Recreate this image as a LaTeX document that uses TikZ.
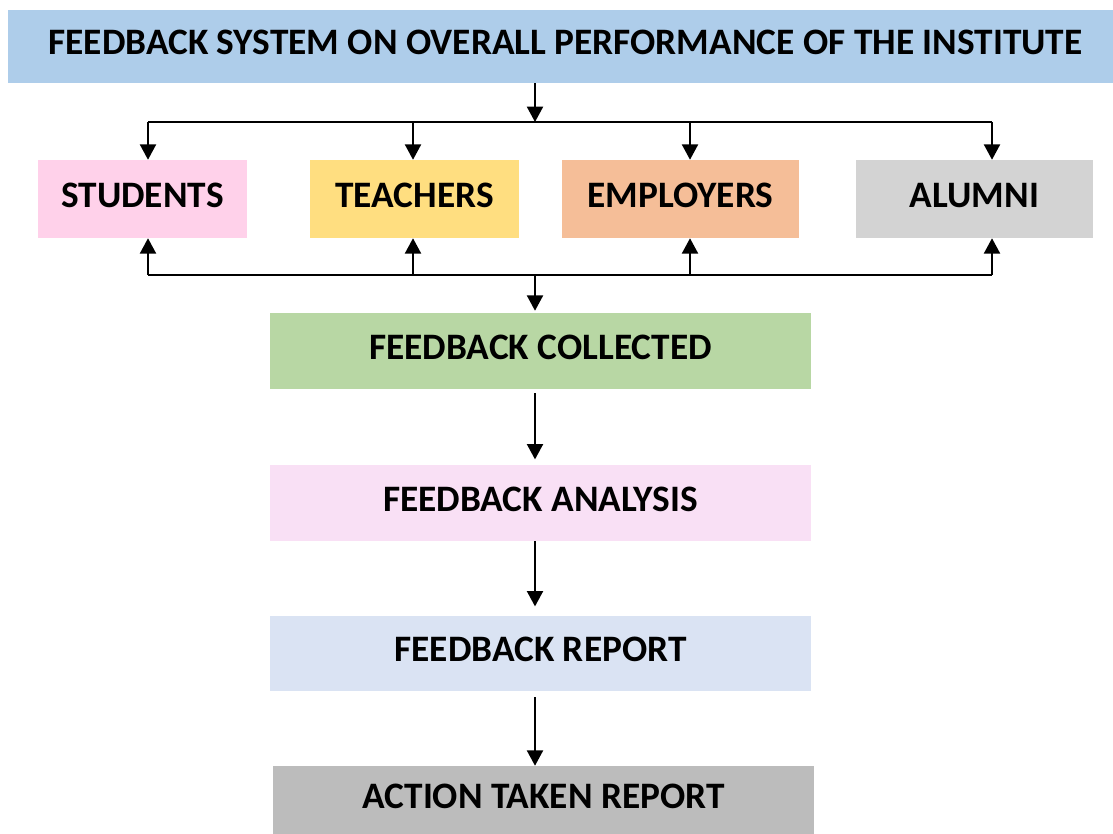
\documentclass[tikz,border=0pt]{standalone}
\usepackage{fontspec}
\setmainfont{Carlito}
\usetikzlibrary{arrows.meta,calc}
\definecolor{titleblue}{RGB}{174,205,234}
\definecolor{studpink}{RGB}{255,209,234}
\definecolor{teachyellow}{RGB}{255,222,128}
\definecolor{emplorange}{RGB}{245,190,152}
\definecolor{alumgrey}{RGB}{211,211,211}
\definecolor{collgreen}{RGB}{184,215,164}
\definecolor{analpink}{RGB}{249,224,245}
\definecolor{reptblue}{RGB}{218,227,243}
\definecolor{actgrey}{RGB}{188,188,188}
\tikzset{
	fbbox/.style={inner sep=0pt, text depth=6pt, font=\fontsize{28}{33}\selectfont\bfseries},
	fbarrow/.style={line width=1.5pt, -{Triangle[width=12pt,length=11.5pt]}},
	fbline/.style={line width=1.5pt}
}

\begin{document}
\begin{tikzpicture}[x=0.75pt, y=-0.75pt]
			%%%%% START %%%%%
			
			\useasboundingbox[fill=white] (0, 0) rectangle (1113, 834);
			
			\node[fbbox, fill=titleblue, minimum width=828.75pt, minimum height=54.75pt] (title) at (560.5, 46.5) {\hspace*{7.5pt}FEEDBACK SYSTEM ON OVERALL PERFORMANCE OF THE INSTITUTE};
			
			\node[fbbox, fill=studpink, minimum width=156.75pt, minimum height=58.5pt] (stud) at (142.5, 199) {STUDENTS};
			\node[fbbox, fill=teachyellow, minimum width=156.75pt, minimum height=58.5pt] (teach) at (414.5, 199) {TEACHERS};
			\node[fbbox, fill=emplorange, minimum width=177.75pt, minimum height=58.5pt] (empl) at (680.5, 199) {EMPLOYERS};
			\node[fbbox, fill=alumgrey, minimum width=177.75pt, minimum height=58.5pt] (alum) at (974.5, 199) {ALUMNI};
			
			\node[fbbox, fill=collgreen, minimum width=405.75pt, minimum height=57pt] (coll) at (540.5, 351) {FEEDBACK COLLECTED};
			\node[fbbox, fill=analpink, minimum width=405.75pt, minimum height=57pt] (anal) at (540.5, 503) {FEEDBACK ANALYSIS};
			\node[fbbox, fill=reptblue, minimum width=405.75pt, minimum height=56.25pt] (rept) at (540.5, 653.5) {FEEDBACK REPORT};
			\node[fbbox, fill=actgrey, minimum width=405.75pt, minimum height=51pt] (act) at (543.5, 800) {ACTION TAKEN REPORT};
			
			% bus points
			\coordinate (spine) at (535, 0);
			\coordinate (up1) at (148, 122);
			\coordinate (up2) at (413, 122);
			\coordinate (up3) at (690, 122);
			\coordinate (up4) at (992, 122);
			\coordinate (lo1) at (148, 275);
			\coordinate (lo2) at (413, 275);
			\coordinate (lo3) at (690, 275);
			\coordinate (lo4) at (992, 275);
			
			\draw[fbarrow] (title.south -| spine) -- (up1 -| spine);
			\draw[fbline] (up1) -- (up4);
			\draw[fbarrow] (up1) -- (stud.north -| up1);
			\draw[fbarrow] (up2) -- (teach.north -| up2);
			\draw[fbarrow] (up3) -- (empl.north -| up3);
			\draw[fbarrow] (up4) -- (alum.north -| up4);
			
			\draw[fbline] (lo1) -- (lo4);
			\draw[fbarrow] (lo1) -- (stud.south -| lo1);
			\draw[fbarrow] (lo2) -- (teach.south -| lo2);
			\draw[fbarrow] (lo3) -- (empl.south -| lo3);
			\draw[fbarrow] (lo4) -- (alum.south -| lo4);
			
			\draw[fbarrow] (lo1 -| spine) -- ([yshift=1.5pt]coll.north -| spine);
			\draw[fbarrow] ([yshift=-3pt]coll.south -| spine) -- ([yshift=4pt]anal.north -| spine);
			\draw[fbarrow] (anal.south -| spine) -- ([yshift=7pt]rept.north -| spine);
			\draw[fbarrow] ([yshift=-4.5pt]rept.south -| spine) -- (act.north -| spine);
			
			%%%%% END %%%%%
\end{tikzpicture}
\end{document}
